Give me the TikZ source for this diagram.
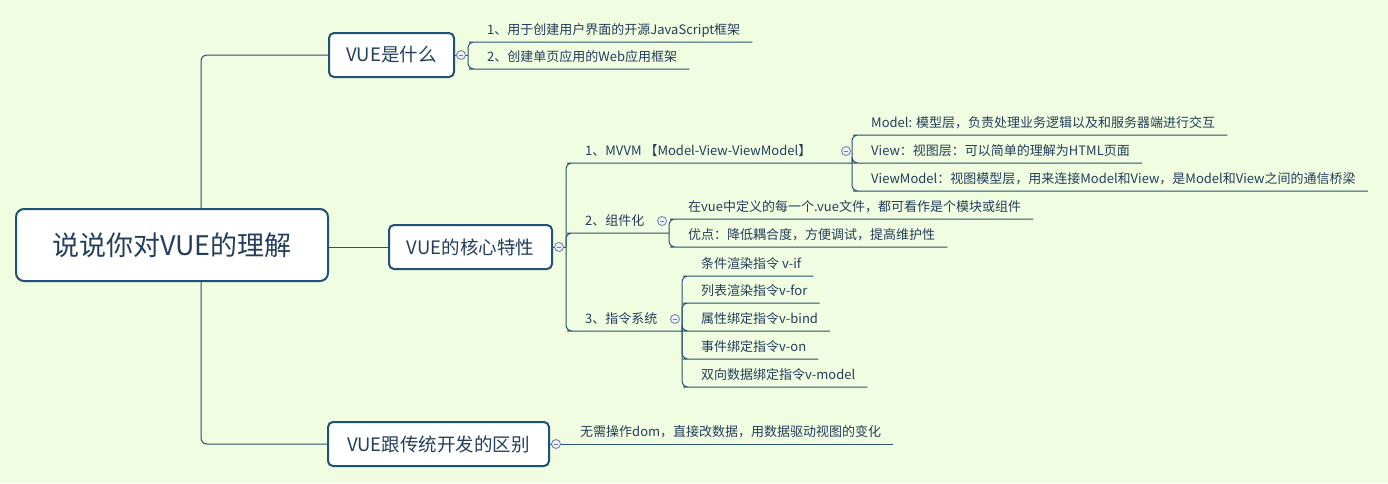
\documentclass[tikz,border=0pt]{standalone}
\usepackage{fontspec}
\setmainfont{Noto Sans CJK SC}
\definecolor{bg}{RGB}{240,253,224}
\definecolor{boxc}{RGB}{30,82,120}
\definecolor{linec}{RGB}{40,82,118}
\definecolor{txt}{RGB}{36,62,92}
\definecolor{foldc}{RGB}{105,125,165}
\definecolor{foldf}{RGB}{236,240,250}
\begin{document}
\begin{tikzpicture}[x=1pt,y=-1pt,
  rootbox/.style={draw=boxc, fill=white, line width=2pt, rounded corners=8pt, minimum width=312pt, minimum height=72pt, inner sep=0pt, font=\fontsize{27}{31}\selectfont, text=txt},
  topbox/.style={draw=boxc, fill=white, line width=2pt, rounded corners=5pt, minimum height=44pt, inner sep=0pt, font=\fontsize{18.5}{22}\selectfont, text=txt},
  sub/.style={anchor=south west, inner xsep=12pt, inner ysep=4pt, text height=10pt, text depth=3pt, font=\fontsize{13}{15}\selectfont, text=txt},
  conn/.style={draw=linec, line width=1pt, rounded corners=6pt},
  fold/.style={circle, draw=foldc, fill=foldf, line width=0.8pt, minimum size=9pt, inner sep=0pt,
    path picture={\draw[foldc, line width=0.7pt] ([xshift=-2.3pt]path picture bounding box.center) -- ([xshift=2.3pt]path picture bounding box.center);}}
]
\fill[bg] (0,0) rectangle (1388,483);
\useasboundingbox (0,0) rectangle (1388,483);

% main nodes
\node[rootbox] (root) at (172,245) {说说你对VUE的理解};
\node[topbox, minimum width=125pt] (A) at (391.5,55) {VUE是什么};
\node[topbox, minimum width=163pt] (B) at (470.5,247) {VUE的核心特性};
\node[topbox, minimum width=221pt] (C) at (438.5,444) {VUE跟传统开发的区别};

% junctions
\coordinate (tk) at (201,0);
\coordinate (jA) at (468,55);
\coordinate (jB) at (566,247);
\coordinate (jM) at (852,163);
\coordinate (jZ) at (669,233);
\coordinate (jI) at (682,331);

% sub topics
\node[sub] (a1) at (475,42) {1、用于创建用户界面的开源JavaScript框架};
\node[sub] (a2) at (475,69) {2、创建单页应用的Web应用框架};
\node[sub] (b1) at (573,163) {1、MVVM 【Model-View-ViewModel】};
\node[sub] (b2) at (573,233) {2、组件化};
\node[sub] (b3) at (573,331) {3、指令系统};
\node[sub] (m1) at (859,135) {Model: 模型层，负责处理业务逻辑以及和服务器端进行交互};
\node[sub] (m2) at (859,163) {View：视图层：可以简单的理解为HTML页面};
\node[sub] (m3) at (859,191) {ViewModel：视图模型层，用来连接Model和View，是Model和View之间的通信桥梁};
\node[sub] (z1) at (676,219) {在vue中定义的每一个.vue文件，都可看作是个模块或组件};
\node[sub] (z2) at (676,247) {优点：降低耦合度，方便调试，提高维护性};
\node[sub] (i1) at (689,276) {条件渲染指令 v-if};
\node[sub] (i2) at (689,303) {列表渲染指令v-for};
\node[sub] (i3) at (689,331) {属性绑定指令v-bind};
\node[sub] (i4) at (689,359) {事件绑定指令v-on};
\node[sub] (i5) at (689,387) {双向数据绑定指令v-model};
\node[sub] (c1) at (568,444) {无需操作dom，直接改数据，用数据驱动视图的变化};

% connectors
\draw[conn] (root.north -| tk) |- (A.west);
\draw[conn] (root.south -| tk) |- (C.west);
\draw[conn] (root.east |- B.west) -- (B.west);
\draw[conn] (A.east) -- (jA);
\foreach \n in {a1,a2} \draw[conn] (jA) |- (\n.south west) -- (\n.south east);
\draw[conn] (B.east) -- (jB);
\draw[conn] (jB) |- (b1.south west) -- (jM);
\draw[conn] (jB) |- (b2.south west) -- (jZ);
\draw[conn] (jB) |- (b3.south west) -- (jI);
\foreach \n in {m1,m2,m3} \draw[conn] (jM) |- (\n.south west) -- (\n.south east);
\foreach \n in {z1,z2} \draw[conn] (jZ) |- (\n.south west) -- (\n.south east);
\foreach \n in {i1,i2,i3,i4,i5} \draw[conn] (jI) |- (\n.south west) -- (\n.south east);
\draw[conn] (C.east) -- (c1.south east);

% fold buttons
\node[fold] (fA) at (461,55) {};
\node[fold] (fB) at (559,247) {};
\node[fold] (fC) at (556,444) {};
\node[fold] (fM) at (846,151) {};
\node[fold] (fZ) at (662,221) {};
\node[fold] (fI) at (675,319) {};
\end{tikzpicture}
\end{document}
